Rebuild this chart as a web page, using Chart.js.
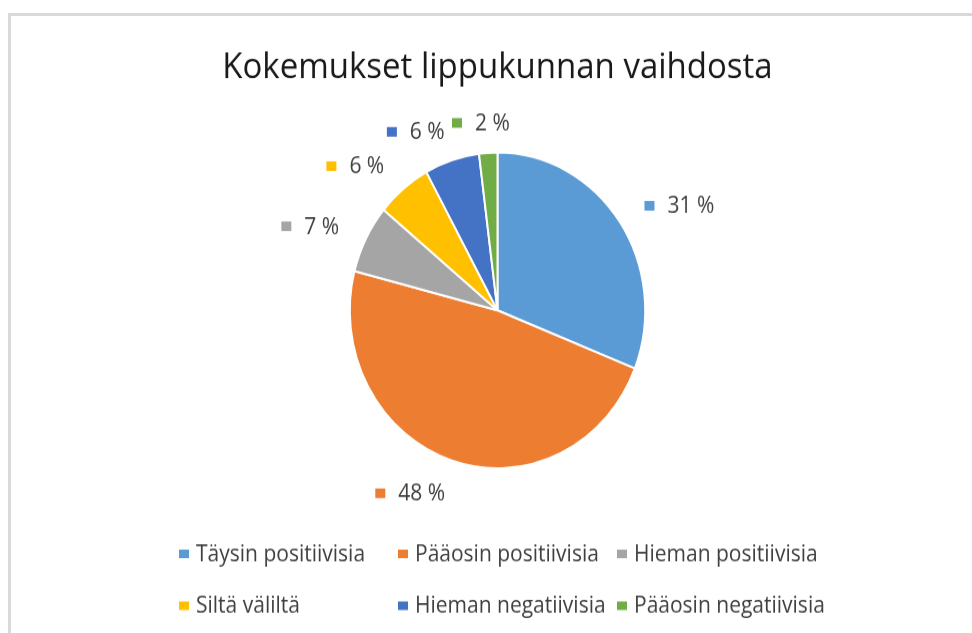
<!DOCTYPE html>
<html>
<head>
<meta charset="utf-8">
<script src="https://cdn.jsdelivr.net/npm/chart.js@4"></script>
<style>
    body {
        margin: 0;
        background: #ffffff;
        overflow: hidden;
    }
    .frame {
        position: absolute;
        left: 8px;
        top: 13px;
        width: 1000px;
        height: 700px;
        border-top: 3px solid #d9d9d9;
        border-left: 3px solid #d9d9d9;
    }
    #pie {
        position: absolute;
        left: 0;
        top: 0;
    }
</style>
</head>
<body>
<div class="frame"></div>
<!-- drawn at 592px high and stretched to 633px, like the reference picture -->
<canvas id="pie" width="972" height="592" style="width:972px;height:633px"></canvas>
<script>
const title = 'Kokemukset lippukunnan vaihdosta'
const labels = [
    'Täysin positiivisia',
    'Pääosin positiivisia',
    'Hieman positiivisia',
    'Siltä väliltä',
    'Hieman negatiivisia',
    'Pääosin negatiivisia',
]
const values = [31, 48, 7, 6, 6, 2]
const colors = ['#5B9BD5', '#ED7D31', '#A5A5A5', '#FFC000', '#4472C4', '#70AD47']

const fontFamily = '"Open Sans", sans-serif'

// data labels outside the slices: small square + "31 %"
const pieLabels = {
    id: 'pieLabels',
    afterDatasetsDraw(chart) {
        let ctx = chart.ctx
        let meta = chart.getDatasetMeta(0)
        ctx.save()
        ctx.font = '21px ' + fontFamily
        ctx.textBaseline = 'middle'
        ctx.textAlign = 'left'
        meta.data.forEach((arc, i) => {
            let p = arc.getProps(['x', 'y', 'startAngle', 'endAngle', 'outerRadius'], true)
            let mid = (p.startAngle + p.endAngle) / 2
            let dx = Math.cos(mid)
            let dy = Math.sin(mid)
            let ax = p.x + (p.outerRadius + 30) * dx
            let ay = p.y + (p.outerRadius + 30) * dy + 2
            let text = values[i] + ' %'
            let tw = ctx.measureText(text).width
            let w = 10 + 13 + tw
            let cx = ax + w / 2 * Math.max(-1, Math.min(1, dx * 3))
            let left = cx - w / 2
            ctx.fillStyle = colors[i]
            ctx.fillRect(left, ay - 4.5, 10, 9)
            ctx.fillStyle = '#404040'
            ctx.fillText(text, left + 23, ay + 1)
        })
        ctx.restore()
    }
}

// legend in a fixed 3 column grid under the pie
const gridLegend = {
    id: 'gridLegend',
    afterDraw(chart) {
        let ctx = chart.ctx
        ctx.save()
        ctx.font = '21px ' + fontFamily
        ctx.textBaseline = 'middle'
        ctx.textAlign = 'left'
        let left = 179
        let colW = 219
        let top = 518
        let rowH = 48.5
        labels.forEach((label, i) => {
            let x = left + (i % 3) * colW
            let y = top + Math.floor(i / 3) * rowH
            ctx.fillStyle = colors[i]
            ctx.fillRect(x, y - 4, 10, 8)
            ctx.fillStyle = '#404040'
            ctx.fillText(label, x + 17, y + 1)
        })
        ctx.restore()
    }
}

let ctx = document.getElementById('pie').getContext('2d')
new Chart(ctx, {
    type: 'pie',
    data: {
        labels: labels,
        datasets: [{
            data: values,
            backgroundColor: colors,
            borderColor: '#ffffff',
            borderWidth: 2,
            hoverOffset: 0
        }]
    },
    options: {
        responsive: false,
        animation: false,
        layout: {
            padding: { top: 0, left: 100, right: 77, bottom: 153 }
        },
        plugins: {
            legend: { display: false },
            tooltip: { enabled: false },
            title: {
                display: true,
                text: title,
                color: '#1a1a1a',
                font: { family: fontFamily, size: 33, weight: 'normal', lineHeight: 1.2 },
                padding: { top: 44, bottom: 58 }
            }
        }
    },
    plugins: [pieLabels, gridLegend]
})
</script>
</body>
</html>
